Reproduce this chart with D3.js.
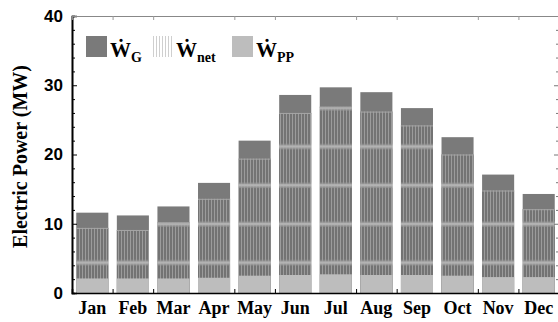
<!DOCTYPE html>
<html>
<head>
<meta charset="utf-8">
<script src="https://cdn.jsdelivr.net/npm/d3@7"></script>
<style>
  body { margin: 0; background: #fff; }
  svg { display: block; }
</style>
</head>
<body>
<div id="chart"></div>
<script>
// monthly values (MW)
const months = ["Jan", "Feb", "Mar", "Apr", "May", "Jun", "Jul", "Aug", "Sep", "Oct", "Nov", "Dec"];
const wG   = [11.6, 11.2, 12.5, 15.9, 22.0, 28.6, 29.7, 29.0, 26.7, 22.5, 17.1, 14.3];
const wNet = [9.4, 9.1, 10.2, 13.6, 19.4, 26.0, 26.9, 26.2, 24.2, 20.0, 14.8, 12.1];
const wPP  = [2.1, 2.1, 2.1, 2.2, 2.5, 2.6, 2.7, 2.6, 2.6, 2.5, 2.3, 2.3];

const yMajor = [0, 10, 20, 30, 40];
const yMinor = [2, 4, 6, 8, 12, 14, 16, 18, 22, 24, 26, 28, 32, 34, 36, 38];
const xTicks = [1.5, 2.5, 4.5, 5.5, 7.5, 8.5, 10.5, 11.5];

const width = 558, height = 322;
const margin = {left: 72, top: 16, right: -1, bottom: 29};

const svg = d3.select("#chart").append("svg")
  .attr("width", width)
  .attr("height", height);

const x = d3.scaleLinear().domain([0.5, 12.5]).range([margin.left, width - margin.right]);
const y = d3.scaleLinear().domain([0, 40]).range([height - margin.bottom, margin.top]);

// patterns for the hatched W_net bars
const defs = svg.append("defs");
const pat = defs.append("pattern")
  .attr("id", "netHatch")
  .attr("patternUnits", "userSpaceOnUse")
  .attr("x", 0).attr("y", 243.7)
  .attr("width", 3).attr("height", 38.7);
pat.append("rect").attr("width", 3).attr("height", 38.7).attr("fill", "#737373");
pat.append("rect").attr("x", 1).attr("width", 1).attr("height", 38.7).attr("fill", "#9c9c9c");
pat.append("rect").attr("y", 17.5).attr("width", 3).attr("height", 3).attr("fill", "#b3b3b3");
pat.append("rect").attr("y", 16.5).attr("width", 3).attr("height", 1).attr("fill", "#999");
pat.append("rect").attr("y", 20.5).attr("width", 3).attr("height", 1).attr("fill", "#999");

const legPat = defs.append("pattern")
  .attr("id", "legHatch")
  .attr("patternUnits", "userSpaceOnUse")
  .attr("width", 3).attr("height", 10);
legPat.append("rect").attr("width", 3).attr("height", 10).attr("fill", "#fff");
legPat.append("rect").attr("x", 1).attr("width", 1).attr("height", 10).attr("fill", "#cfcfcf");

const halfW = 0.395;
const idx = d3.range(months.length);

// W_G full bars
svg.append("g").selectAll("rect")
  .data(idx).join("rect")
  .attr("x", i => x(i + 1 - halfW))
  .attr("width", i => x(i + 1 + halfW) - x(i + 1 - halfW))
  .attr("y", i => y(wG[i]))
  .attr("height", i => y(0) - y(wG[i]))
  .attr("fill", "#7a7a7a");

// W_net hatched bars
svg.append("g").selectAll("rect")
  .data(idx).join("rect")
  .attr("x", i => x(i + 1 - halfW))
  .attr("width", i => x(i + 1 + halfW) - x(i + 1 - halfW))
  .attr("y", i => y(wNet[i]))
  .attr("height", i => y(0) - y(wNet[i]))
  .attr("fill", "url(#netHatch)");

// thin light edge at top of the hatched part
svg.append("g").selectAll("line")
  .data(idx).join("line")
  .attr("x1", i => x(i + 1 - halfW))
  .attr("x2", i => x(i + 1 + halfW))
  .attr("y1", i => y(wNet[i]) + 0.5)
  .attr("y2", i => y(wNet[i]) + 0.5)
  .attr("stroke", "#a6a6a6")
  .attr("stroke-width", 1);

// W_PP bars
svg.append("g").selectAll("rect")
  .data(idx).join("rect")
  .attr("x", i => x(i + 1 - halfW))
  .attr("width", i => x(i + 1 + halfW) - x(i + 1 - halfW))
  .attr("y", i => y(wPP[i]))
  .attr("height", i => y(0) - y(wPP[i]))
  .attr("fill", "#bdbdbd");

// axes: ticks point inward
const leftAxis = svg.append("g").attr("transform", `translate(${margin.left},0)`);
leftAxis.call(d3.axisLeft(y).tickValues(yMajor).tickSize(-5).tickPadding(9).tickFormat(d3.format("d")));
leftAxis.append("g").call(d3.axisLeft(y).tickValues(yMinor).tickSize(-3).tickFormat(""));
leftAxis.selectAll(".domain").attr("stroke", "#000").attr("stroke-width", 1.6);
leftAxis.selectAll("text")
  .attr("font-family", "Liberation Sans, Arial, sans-serif")
  .attr("font-weight", "bold")
  .attr("font-size", 17)
  .attr("fill", "#000");

const rightAxis = svg.append("g").attr("transform", `translate(${width - margin.right},0)`);
rightAxis.call(d3.axisRight(y).tickValues(yMajor).tickSize(-5).tickFormat(""));
rightAxis.append("g").call(d3.axisRight(y).tickValues(yMinor).tickSize(-3).tickFormat(""));
rightAxis.selectAll("line").attr("stroke", "#777");

const bottomAxis = svg.append("g").attr("transform", `translate(0,${y(0)})`);
bottomAxis.call(d3.axisBottom(x).tickValues(xTicks).tickSize(-4).tickFormat(""));
bottomAxis.selectAll(".domain").attr("stroke", "#000").attr("stroke-width", 1.6);

const topAxis = svg.append("g").attr("transform", `translate(0,${y(40)})`);
topAxis.call(d3.axisTop(x).tickValues(xTicks).tickSize(-4).tickFormat(""));
topAxis.selectAll(".domain").attr("stroke", "#888").attr("stroke-width", 1.2);
topAxis.selectAll("line").attr("stroke", "#999");

// month labels
svg.append("g").selectAll("text")
  .data(months).join("text")
  .attr("x", (d, i) => x(i + 1))
  .attr("y", 314)
  .attr("text-anchor", "middle")
  .attr("font-family", "Liberation Serif, Times New Roman, serif")
  .attr("font-weight", "bold")
  .attr("font-size", 18)
  .text(d => d);

// y axis title
svg.append("text")
  .attr("transform", `translate(20,${(y(0) + y(40)) / 2 + 2}) rotate(-90)`)
  .attr("text-anchor", "middle")
  .attr("dominant-baseline", "central")
  .attr("font-family", "Liberation Serif, Times New Roman, serif")
  .attr("font-weight", "bold")
  .attr("font-size", 20)
  .text("Electric Power (MW)");

// legend
const legendItems = [
  {sub: "G", fill: "#7a7a7a", x: 86},
  {sub: "net", fill: "url(#legHatch)", x: 152},
  {sub: "PP", fill: "#bdbdbd", x: 232}
];
const leg = svg.append("g").selectAll("g")
  .data(legendItems).join("g")
  .attr("transform", d => `translate(${d.x},36)`);
leg.append("rect")
  .attr("width", 21).attr("height", 21)
  .attr("fill", d => d.fill);
const lt = leg.append("text")
  .attr("x", 24).attr("y", 20.5)
  .attr("font-family", "Liberation Serif, DejaVu Serif, Times New Roman, serif")
  .attr("font-weight", "bold")
  .attr("font-size", 21);
lt.append("tspan").text("\u1E86");
lt.append("tspan")
  .attr("dy", 5)
  .attr("font-size", 14)
  .text(d => d.sub);
</script>
</body>
</html>
